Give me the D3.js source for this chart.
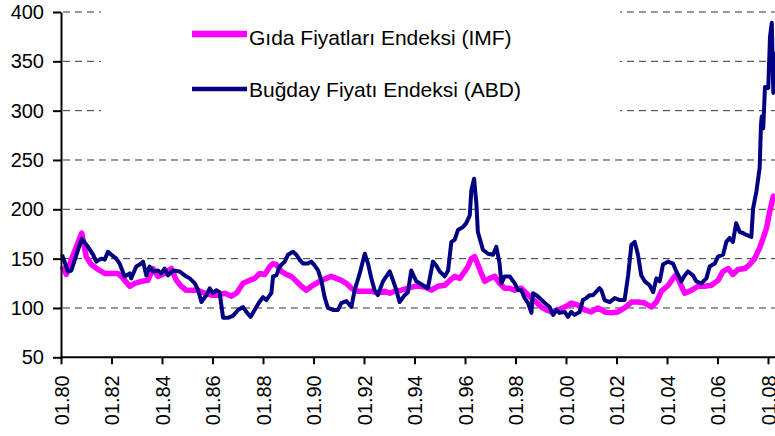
<!DOCTYPE html>
<html>
<head>
<meta charset="utf-8">
<script src="https://cdn.jsdelivr.net/npm/d3@7"></script>
<style>
  body { margin: 0; background: #fff; }
  svg { display: block; font-family: "Liberation Sans", Arial, sans-serif; }
</style>
</head>
<body>
<div id="chart"></div>
<script>
// series values (decimal year, index value)
const foodYears = [1980.04,1980.21,1980.41,1980.61,1980.82,1981.00,1981.20,1981.47,1981.73,1982.00,1982.26,1982.46,1982.72,1982.92,1983.18,1983.44,1983.64,1983.84,1984.10,1984.37,1984.57,1984.76,1984.96,1985.16,1985.43,1985.69,1985.96,1986.22,1986.49,1986.75,1986.95,1987.21,1987.47,1987.67,1987.87,1988.07,1988.27,1988.40,1988.53,1988.73,1988.92,1989.12,1989.32,1989.52,1989.72,1989.91,1990.11,1990.31,1990.51,1990.70,1990.90,1991.10,1991.30,1991.50,1991.76,1992.03,1992.29,1992.55,1992.82,1993.02,1993.22,1993.48,1993.74,1994.01,1994.27,1994.53,1994.67,1994.93,1995.20,1995.40,1995.59,1995.79,1995.99,1996.12,1996.25,1996.38,1996.51,1996.65,1996.78,1996.98,1997.18,1997.37,1997.57,1997.77,1997.97,1998.23,1998.43,1998.63,1998.82,1999.02,1999.22,1999.42,1999.68,1999.95,2000.21,2000.47,2000.74,2001.00,2001.27,2001.53,2001.79,2002.05,2002.32,2002.59,2002.85,2003.12,2003.38,2003.58,2003.78,2004.05,2004.24,2004.37,2004.57,2004.70,2004.97,2005.23,2005.49,2005.76,2006.02,2006.22,2006.42,2006.61,2006.81,2007.08,2007.27,2007.47,2007.67,2007.81,2007.94,2008.07,2008.21,2008.28];
const foodIndex = [142,134,149,162,176,152,144,139,135,135,135,130,122,125,127,128,140,132,135,140,128,122,118,118,118,115,113,113,115,112,115,125,128,130,135,134,142,145,144,137,134,132,127,122,118,122,125,128,130,132,130,128,125,120,117,117,117,115,117,115,117,118,120,122,122,120,118,122,123,128,132,130,137,142,150,152,144,135,127,130,132,125,120,120,118,120,115,110,106,101,98,96,98,101,105,103,98,96,100,96,95,96,100,106,106,105,101,106,117,123,130,134,122,115,118,122,122,123,128,137,140,134,139,140,144,150,161,171,181,198,213,215];

const wheatYears = [1980.04,1980.28,1980.41,1980.74,1980.82,1981.07,1981.27,1981.40,1981.59,1981.73,1981.86,1981.99,1982.19,1982.32,1982.52,1982.72,1982.78,1982.98,1983.18,1983.25,1983.38,1983.51,1983.64,1983.84,1983.97,1984.10,1984.24,1984.44,1984.70,1984.90,1985.10,1985.30,1985.43,1985.56,1985.76,1985.89,1986.02,1986.15,1986.28,1986.42,1986.61,1986.81,1987.01,1987.21,1987.34,1987.51,1987.67,1987.83,1988.00,1988.13,1988.33,1988.40,1988.53,1988.66,1988.86,1988.99,1989.19,1989.32,1989.45,1989.58,1989.78,1989.91,1990.05,1990.18,1990.31,1990.44,1990.57,1990.77,1990.97,1991.10,1991.30,1991.50,1991.63,1991.83,1992.03,1992.16,1992.29,1992.42,1992.55,1992.75,1993.02,1993.15,1993.28,1993.41,1993.61,1993.74,1993.87,1994.07,1994.27,1994.53,1994.73,1994.86,1995.00,1995.20,1995.33,1995.46,1995.59,1995.72,1995.92,1996.05,1996.19,1996.25,1996.36,1996.45,1996.51,1996.71,1996.91,1997.11,1997.24,1997.37,1997.44,1997.57,1997.77,1997.97,1998.10,1998.23,1998.36,1998.50,1998.63,1998.69,1998.82,1998.96,1999.16,1999.35,1999.49,1999.62,1999.75,1999.95,2000.08,2000.21,2000.34,2000.54,2000.67,2000.80,2000.94,2001.07,2001.33,2001.40,2001.53,2001.73,2001.93,2002.13,2002.32,2002.46,2002.59,2002.72,2002.85,2002.98,2003.12,2003.31,2003.45,2003.58,2003.71,2003.84,2004.04,2004.24,2004.37,2004.57,2004.70,2004.83,2005.03,2005.16,2005.36,2005.56,2005.69,2005.89,2006.02,2006.22,2006.35,2006.48,2006.61,2006.74,2006.88,2007.01,2007.14,2007.34,2007.41,2007.54,2007.67,2007.72,2007.75,2007.81,2007.88,2008.01,2008.08,2008.15,2008.21,2008.28];
const wheatIndex = [154,137,138,164,170,162,154,147,150,149,157,154,150,145,132,135,130,142,145,147,133,142,137,138,135,140,133,138,137,133,130,125,118,106,113,120,115,118,116,90,90,92,98,101,96,91,98,105,111,108,115,132,133,142,147,154,157,154,149,145,145,147,143,138,128,111,100,98,98,105,107,101,118,135,155,145,130,118,113,127,137,128,118,106,113,116,138,127,124,120,147,143,137,132,138,167,169,179,182,186,194,219,231,206,177,159,155,154,162,145,125,132,132,125,118,118,110,105,95,115,113,110,105,101,93,98,95,96,91,96,93,96,108,110,113,113,120,118,108,106,110,108,108,133,164,167,154,133,127,123,116,130,127,144,147,145,137,127,133,137,133,127,125,130,142,145,152,154,167,171,167,186,177,176,174,172,201,218,242,284,294,282,324,323,375,389,318,360];

// axis ticks and labels
const tickYears = d3.range(1980, 2009, 2);
const yTicks = [50, 100, 150, 200, 250, 300, 350, 400];
const seriesNames = ["Gıda Fiyatları Endeksi (IMF)", "Buğday Fiyatı Endeksi (ABD)"];

const WIDTH = 775;
const HEIGHT = 436;
const MARGINS = {left: 61, top: 12, bottom: 78};

const svg = d3.select("#chart")
  .append("svg")
    .attr("width", WIDTH)
    .attr("height", HEIGHT);

const X_SCALE = d3.scaleLinear().domain([1980, 2008]).range([MARGINS.left, 768]);
const Y_SCALE = d3.scaleLinear().domain([50, 400]).range([HEIGHT - MARGINS.bottom - 0.7, MARGINS.top]);

// dashed gridlines
svg.append("g")
  .selectAll("line")
  .data(yTicks.slice(1))
  .enter()
  .append("line")
    .attr("x1", MARGINS.left + 2)
    .attr("x2", WIDTH)
    .attr("y1", d => Y_SCALE(d))
    .attr("y2", d => Y_SCALE(d))
    .attr("stroke", "#333")
    .attr("stroke-width", 1)
    .attr("stroke-dasharray", "7,5");

// white legend box hides the grid under it
svg.append("rect")
  .attr("x", 101).attr("y", 0)
  .attr("width", 519).attr("height", 125)
  .attr("fill", "#fff");

// lines
const line = d3.line()
  .x(d => X_SCALE(d[0]))
  .y(d => Y_SCALE(d[1]));

svg.append("path")
  .datum(d3.zip(foodYears, foodIndex))
  .attr("d", line)
  .attr("fill", "none")
  .attr("stroke", "#ff00ff")
  .attr("stroke-width", 5.5)
  .attr("stroke-linejoin", "round");

svg.append("path")
  .datum(d3.zip(wheatYears, wheatIndex))
  .attr("d", line)
  .attr("fill", "none")
  .attr("stroke", "#000080")
  .attr("stroke-width", 4)
  .attr("stroke-linejoin", "round");

// y axis
const yAxis = svg.append("g")
  .attr("transform", "translate(" + MARGINS.left + ",0)")
  .call(d3.axisLeft(Y_SCALE).tickValues(yTicks).tickSize(8).tickSizeOuter(0).tickPadding(9));

// x axis
const xAxis = svg.append("g")
  .attr("transform", "translate(0," + Y_SCALE(50) + ")")
  .call(d3.axisBottom(X_SCALE).tickValues(tickYears).tickSize(7).tickSizeOuter(0)
        .tickFormat(d => "01." + String(d).slice(2)));

xAxis.select(".domain").attr("d", "M" + MARGINS.left + ",0H" + WIDTH);

xAxis.selectAll("text")
  .attr("transform", "rotate(-90)")
  .attr("text-anchor", "end")
  .attr("x", -18)
  .attr("y", 0)
  .attr("dy", "0.35em");

[yAxis, xAxis].forEach(ax => {
  ax.select(".domain").attr("stroke", "#000").attr("stroke-width", 2);
  ax.selectAll(".tick line").attr("stroke", "#000").attr("stroke-width", 2);
  ax.selectAll("text").attr("font-size", "20px").attr("fill", "#000")
    .attr("font-family", "'Liberation Sans', Arial, sans-serif");
});

// legend
const legendColors = ["#ff00ff", "#000080"];
const legendWidths = [6.5, 4.5];
const legend = svg.append("g");
seriesNames.forEach((name, i) => {
  const ly = [34, 89][i];
  legend.append("line")
    .attr("x1", 192).attr("x2", 247)
    .attr("y1", ly).attr("y2", ly)
    .attr("stroke", legendColors[i])
    .attr("stroke-width", legendWidths[i]);
  legend.append("text")
    .attr("x", 249)
    .attr("y", [45, 97][i])
    .attr("font-size", "21px")
    .attr("fill", "#000")
    .text(name);
});
</script>
</body>
</html>
